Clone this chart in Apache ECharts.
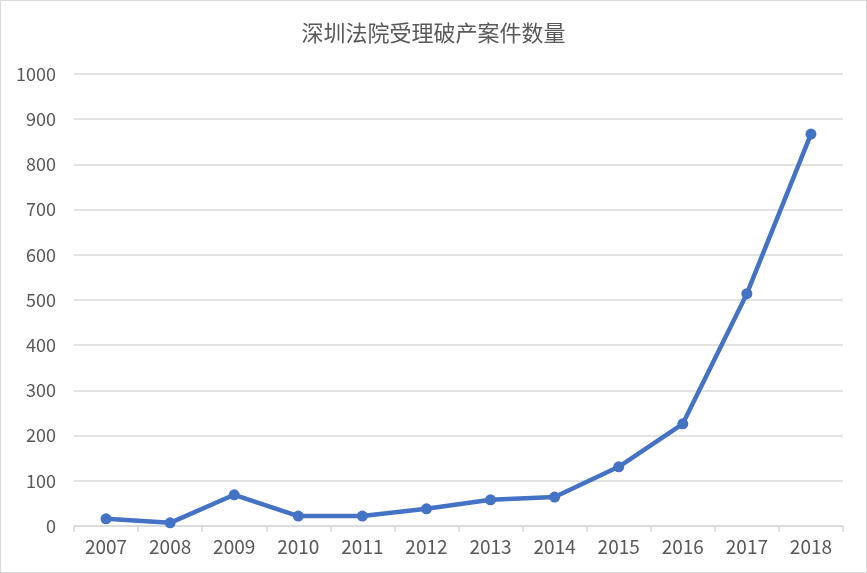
<!DOCTYPE html>
<html><head><meta charset="utf-8">
<script src="https://cdn.jsdelivr.net/npm/echarts@6/dist/echarts.min.js"></script>
<style>html,body{margin:0;padding:0;background:#fff}#c{width:867px;height:573px;box-sizing:border-box;border:1px solid #d9d9d9}</style>
</head><body><div id="c"></div>
<script>
var title = '深圳法院受理破产案件数量';
var years = ['2007','2008','2009','2010','2011','2012','2013','2014','2015','2016','2017','2018'];
var cases = [16, 7, 69, 22, 22, 38, 58, 64, 131, 226, 514, 867];
var chart = echarts.init(document.getElementById('c'));
var font = '"Noto Sans CJK SC", "Microsoft YaHei", sans-serif';
chart.setOption({
  animation: false,
  title: {text: title, left: 'center', top: 16, textStyle: {fontFamily: font, fontSize: 22, fontWeight: 'normal', color: '#595959'}},
  grid: {left: 73, right: 23, top: 73, bottom: 46},
  xAxis: {type: 'category', data: years, boundaryGap: true,
    axisLine: {lineStyle: {color: '#d9d9d9', width: 1.5}},
    axisTick: {show: true, length: 6, lineStyle: {color: '#d9d9d9', width: 1.5}},
    axisLabel: {fontFamily: font, fontSize: 19, color: '#595959', margin: 11}},
  yAxis: {type: 'value', min: 0, max: 1000, interval: 100,
    axisLine: {show: false}, axisTick: {show: false},
    splitLine: {lineStyle: {color: '#d9d9d9', width: 1.5}},
    axisLabel: {fontFamily: font, fontSize: 18, color: '#595959', margin: 18,
      formatter: function (v) { return String(v); }}},
  series: [{type: 'line', data: cases, symbol: 'circle', symbolSize: 11,
    lineStyle: {color: '#4472C4', width: 4.5}, itemStyle: {color: '#4472C4'}}]
});
</script></body></html>
